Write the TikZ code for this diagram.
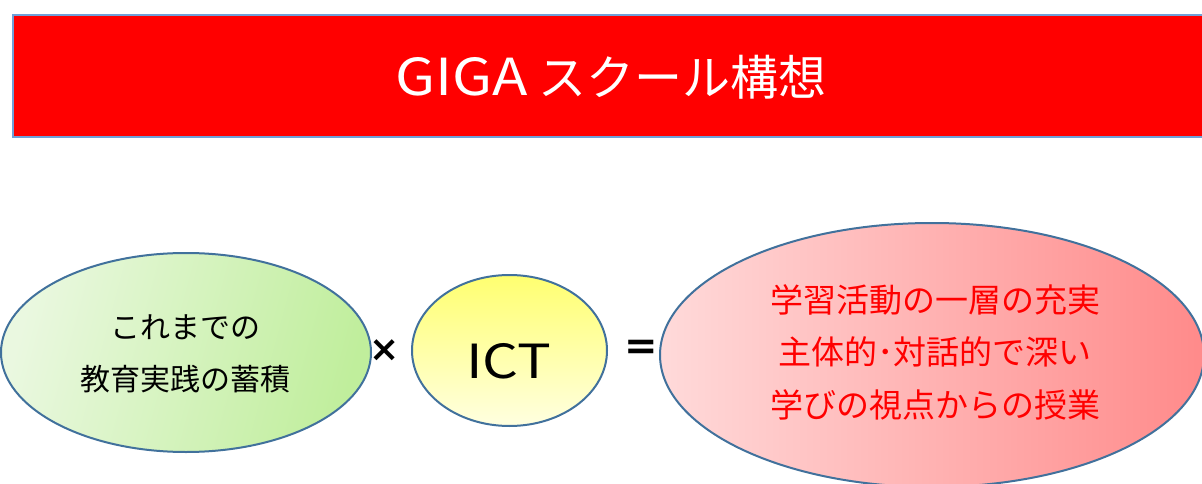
\documentclass[tikz,border=0pt]{standalone}
\usepackage{fontspec}
\usepackage{graphicx}
\setmainfont{Noto Sans CJK JP}
\newfontfamily\symfont{DejaVu Sans}
\usetikzlibrary{shapes.geometric}
\definecolor{bannerred}{HTML}{FF0000}
\definecolor{bannerline}{HTML}{6FA0D8}
\definecolor{ellline}{HTML}{41719C}
\definecolor{greenA}{HTML}{EAF8E0}
\definecolor{greenB}{HTML}{C0EE9C}
\definecolor{yellowA}{HTML}{FFFF70}
\definecolor{yellowB}{HTML}{FFFFE0}
\definecolor{pinkA}{HTML}{FFDADA}
\definecolor{pinkB}{HTML}{FF8A8A}
\definecolor{txtred}{HTML}{FF0000}
\tikzset{
  oval/.style={ellipse, draw=ellline, line width=2pt, inner sep=0pt, outer sep=0pt},
  lbl/.style={align=center, inner sep=0pt},
}
\begin{document}
\begin{tikzpicture}[x=1pt,y=-1pt]
\useasboundingbox (0,0) rectangle (1202,484);
\clip (0,0) rectangle (1202,484);
% banner
\node[draw=bannerline, fill=bannerred, line width=2pt, minimum width=1210pt, minimum height=122pt, inner sep=0pt, anchor=north west] (banner) at (12,14) {};
\node[lbl, text=white, font=\fontsize{48}{50}\selectfont] (title) at (611,77) {\scalebox{1.14}[1]{\fontsize{51}{50}\selectfont GIGA} スクール構想};
% left ellipse
\node[oval, left color=greenA, right color=greenB, shading angle=75, minimum width=370pt, minimum height=199pt] (left) at (186,352.5) {};
\node[lbl, font=\fontsize{30}{52}\selectfont] (lefttext) at (185,354) {これまでの\\教育実践の蓄積};
% times
\node[lbl, font=\symfont\bfseries\fontsize{36}{36}\selectfont] (times) at (385,351) {×};
% ICT ellipse
\node[oval, top color=yellowA, bottom color=yellowB, minimum width=195pt, minimum height=151pt] (ict) at (509.5,350.5) {};
\node[lbl, font=\fontsize{47}{47}\selectfont] (icttext) at (509,361) {\scalebox{1.2}[1]{ICT}};
% equals
\node[lbl, font=\symfont\bfseries\fontsize{40}{40}\selectfont] (eq) at (641,350) {=};
% right ellipse
\node[oval, left color=pinkA, right color=pinkB, minimum width=544pt, minimum height=264pt] (right) at (932,355) {};
\node[lbl, text=txtred, font=\fontsize{33}{52.5}\selectfont] (righttext) at (935,352) {学習活動の一層の充実\\主体的･対話的で深い\\学びの視点からの授業};
\end{tikzpicture}
\end{document}
